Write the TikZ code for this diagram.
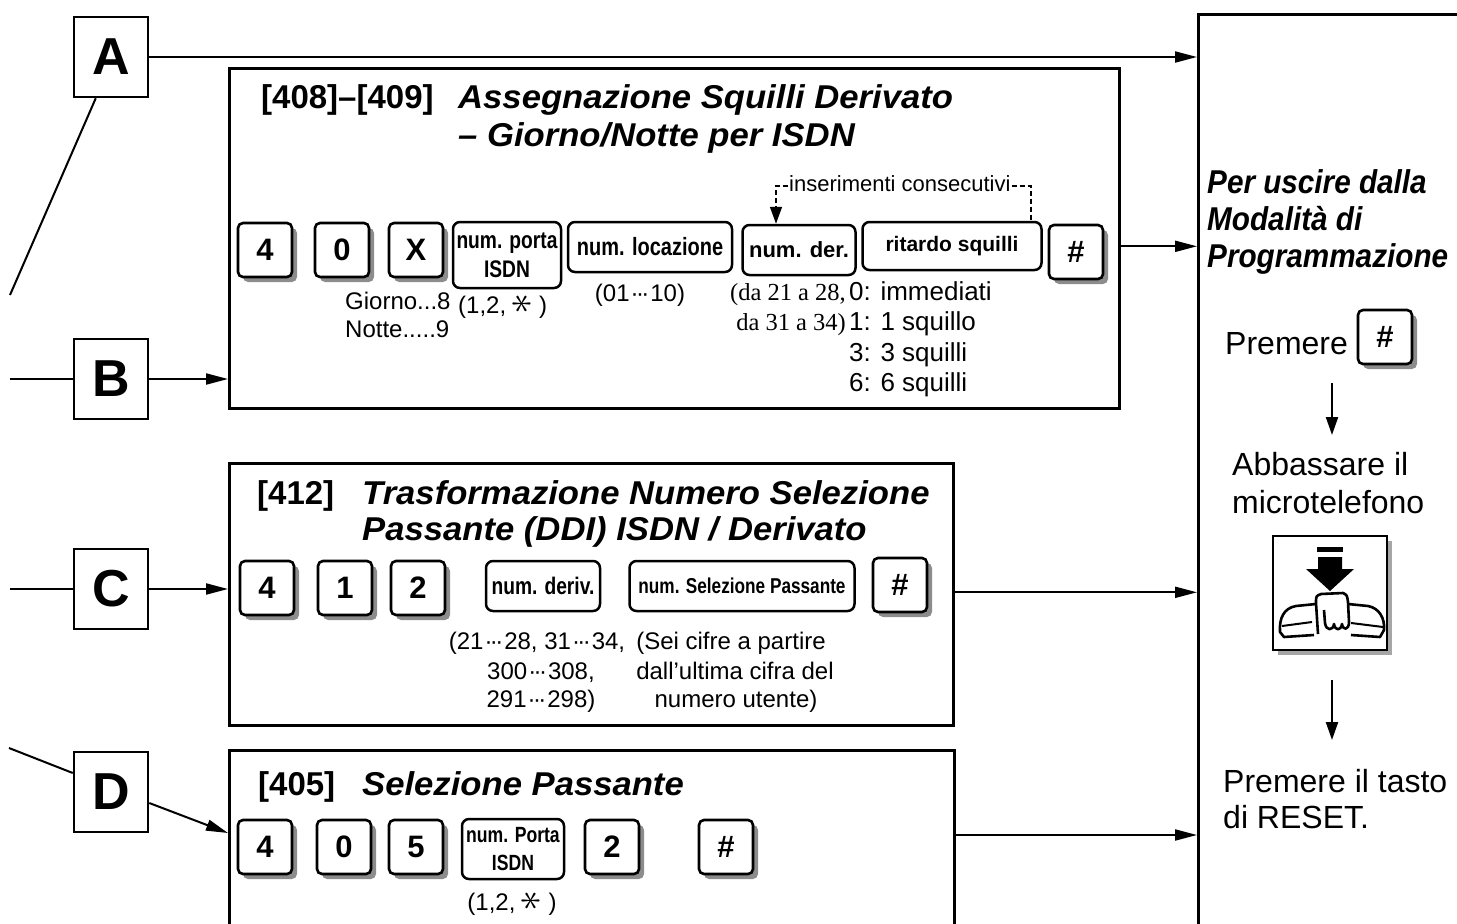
\documentclass[tikz,border=0pt]{standalone}
\usepackage{fontspec}
\setmainfont{Liberation Sans}
\newfontfamily\cond[FakeStretch=0.8]{Liberation Sans}
\newfontfamily\ttlf[FakeStretch=1.05]{Liberation Sans}
\newfontfamily\rttl[FakeStretch=0.9]{Liberation Sans}
\newfontfamily\tms{Liberation Serif}
\usetikzlibrary{arrows.meta,shadows,calc}
\newcommand\fsz[1]{\fontsize{#1}{#1}\selectfont}
\newcommand\mdots{\kern1pt\textperiodcentered\kern-2.6pt\textperiodcentered\kern-2.6pt\textperiodcentered\kern1pt}
\newcommand\sstar{\raisebox{-1pt}{\scalebox{1.7}{\rotatebox[origin=c]{90}{$\ast$}}}}
\begin{document}
\begin{tikzpicture}[x=1pt,y=-1pt,
  bx/.style={draw, line width=2.6pt, inner sep=0pt},
  lbl/.style={draw, line width=2.5pt, minimum width=74pt, minimum height=80pt, inner sep=0pt, font=\fsz{52}\bfseries},
  keyb/.style={draw, line width=2.6pt, rounded corners=5pt, fill=white, inner sep=0pt,
     minimum width=54pt, minimum height=54pt, font=\fsz{31}\bfseries,
     drop shadow={shadow xshift=5pt, shadow yshift=-5pt, fill=black!45, opacity=1}},
  optb/.style={draw, line width=2.5pt, rounded corners=7pt, fill=white, inner sep=0pt, align=center},
  conn/.style={line width=2pt, -{Triangle[length=22pt,width=11pt]}},
  darr/.style={line width=2.2pt, -{Triangle[length=18pt,width=12pt]}},
  ln/.style={line width=2pt},
  txt/.style={inner sep=0pt, font=\fontsize{24}{29}\selectfont},
  ttl/.style={anchor=base west, inner sep=0pt, font=\fsz{33}\ttlf\bfseries\itshape},
  num/.style={anchor=base west, inner sep=0pt, font=\fsz{33}\bfseries},
  rtl/.style={anchor=base west, inner sep=0pt, font=\fsz{33}\rttl\bfseries\itshape},
  rtx/.style={anchor=base west, inner sep=0pt, font=\fsz{32}},
  dsh/.style={line width=1.6pt, dash pattern=on 5pt off 3pt}
]
\useasboundingbox (0,0) rectangle (1457,924);

% right panel
\node[bx, minimum width=400pt, minimum height=1000pt, anchor=north west] (exitp) at (1197,13) {};

% main boxes
\node[bx, minimum width=890pt, minimum height=340pt, anchor=north west] (b1) at (228,67) {};
\node[bx, minimum width=724pt, minimum height=262pt, anchor=north west] (b2) at (228,462) {};
\node[bx, minimum width=725pt, minimum height=300pt, anchor=north west] (b3) at (228,749) {};

% label boxes
\node[lbl] (A) at (111,57) {A};
\node[lbl] (B) at (111,379) {B};
\node[lbl] (C) at (111,589) {C};
\node[lbl] (D) at (111,792) {D};

% connectors on the left
\coordinate (aend) at (10,295);
\draw[ln] ([xshift=23pt]A.south west) -- (aend);
\draw[conn] (A.east) -- (A.east -| exitp.west);
\coordinate (bst) at (10,379);
\draw[ln] (bst) -- (B.west);
\draw[conn] (B.east) -- (B.east -| b1.west);
\coordinate (cst) at (10,589);
\draw[ln] (cst) -- (C.west);
\draw[conn] (C.east) -- (C.east -| b2.west);
\coordinate (dst) at (9,748);
\coordinate (d3in) at (228,833);
\draw[ln] (dst) -- ([yshift=19pt]D.west);
\draw[conn] ([yshift=-11pt]D.east) -- (d3in);

% connectors to the right panel
\draw[conn] ([yshift=-8pt]b1.east) -- ([yshift=-8pt]b1.east -| exitp.west);
\draw[conn] ([yshift=2pt]b2.east) -- ([yshift=2pt]b2.east -| exitp.west);
\coordinate (o3) at (953,835);
\draw[conn] (o3) -- (o3 -| exitp.west);

% ---------- box 1
\node[num] (t1n) at (261,108) {[408]–[409]};
\node[ttl] (t1a) at (458,108) {Assegnazione Squilli Derivato};
\node[ttl] (t1b) at (458,146) {– Giorno/Notte per ISDN};

\node[keyb] (k11) at (265,250) {4};
\node[keyb] (k12) at (342,250) {0};
\node[keyb] (k13) at (416,250) {X};
\node[optb, minimum width=108pt, minimum height=66pt, font=\fontsize{24}{29}\selectfont\cond\bfseries] (k14) at (507,255) {num. porta\\ISDN};
\node[optb, minimum width=164pt, minimum height=50pt, font=\fsz{25}\cond\bfseries] (k15) at (650,247) {num. locazione};
\node[optb, minimum width=113pt, minimum height=50pt, font=\fsz{22}\bfseries] (k16) at (799,250) {num. der.};
\node[optb, minimum width=179pt, minimum height=48pt, font=\fsz{21}\bfseries] (k17) at (952,246) {ritardo squilli};
\node[keyb] (k18) at (1076,252) {\#};

\node[txt, anchor=base west] (g1) at (345,309) {Giorno...8};
\node[txt, anchor=base west] (g2) at (345,337) {Notte.....9};
\node[txt, anchor=base west] (p1) at (458,313) {(1,2, \sstar\ )};
\node[txt, anchor=base] (l1) at (640,301) {(01\mdots 10)};
\node[txt, anchor=base east, font=\fontsize{24.5}{30}\selectfont\tms] (d1) at (846,300) {(da 21 a 28,};
\node[txt, anchor=base east, font=\fontsize{24.5}{30}\selectfont\tms] (d2) at (846,330) {da 31 a 34)};
\node[txt, anchor=base west, font=\fsz{26}] (r0) at (849,300) {0: immediati};
\node[txt, anchor=base west, font=\fsz{26}] (r1) at (849,330) {1: 1 squillo};
\node[txt, anchor=base west, font=\fsz{26}] (r3) at (849,361) {3: 3 squilli};
\node[txt, anchor=base west, font=\fsz{26}] (r6) at (849,391) {6: 6 squilli};

\node[inner sep=1pt, anchor=base west, font=\fsz{22}] (ins) at (788,191) {inserimenti consecutivi};
\coordinate (insL) at (776,186);
\coordinate (insR) at (1031,186);
\draw[dsh, -{Triangle[length=17pt,width=12pt]}] (ins.west |- insL) -- (insL) -- (insL |- k16.north);
\draw[dsh] (ins.east |- insR) -- (insR) -- (insR |- k17.north);

% ---------- box 2
\node[num] (t2n) at (257,504) {[412]};
\node[ttl] (t2a) at (362,504) {Trasformazione Numero Selezione};
\node[ttl] (t2b) at (362,540) {Passante (DDI) ISDN / Derivato};

\node[keyb] (k21) at (267,588) {4};
\node[keyb] (k22) at (345,588) {1};
\node[keyb] (k23) at (418,588) {2};
\node[optb, minimum width=114pt, minimum height=50pt, font=\fsz{24}\cond\bfseries] (k24) at (543,586) {num. deriv.};
\node[optb, minimum width=225pt, minimum height=50pt, font=\fsz{21.5}\cond\bfseries] (k25) at (742,586) {num. Selezione Passante};
\node[keyb] (k26) at (900,585) {\#};

\node[txt, anchor=base] (n2a) at (537,649) {(21\mdots 28, 31\mdots 34,};
\node[txt, anchor=base] (n2b) at (541,679) {300\mdots 308,};
\node[txt, anchor=base] (n2c) at (541,707) {291\mdots 298)};
\node[txt, anchor=base] (s2a) at (731,649) {(Sei cifre a partire};
\node[txt, anchor=base] (s2b) at (735,679) {dall’ultima cifra del};
\node[txt, anchor=base] (s2c) at (736,707) {numero utente)};

% ---------- box 3
\node[num] (t3n) at (258,795) {[405]};
\node[ttl] (t3a) at (362,795) {Selezione Passante};

\node[keyb] (k31) at (265,847) {4};
\node[keyb] (k32) at (344,847) {0};
\node[keyb] (k33) at (416,847) {5};
\node[optb, minimum width=102pt, minimum height=60pt, font=\fontsize{22}{28}\selectfont\cond\bfseries] (k34) at (513,849) {num. Porta\\ISDN};
\node[keyb] (k35) at (612,847) {2};
\node[keyb] (k36) at (726,847) {\#};
\node[txt, anchor=base] (p3) at (512,910) {(1,2, \sstar\ )};

% ---------- right panel
\node[rtl] (e1) at (1207,193) {Per uscire dalla};
\node[rtl] (e2) at (1207,230) {Modalità di};
\node[rtl] (e3) at (1207,267) {Programmazione};

\node[rtx] (pr1) at (1225,354) {Premere};
\node[keyb] (ph) at (1385,337) {\#};
\coordinate (a1s) at (1332,383);
\coordinate (a1e) at (1332,435);
\draw[darr] (a1s) -- (a1e);

\node[rtx] (ab1) at (1232,475) {Abbassare il};
\node[rtx] (ab2) at (1232,513) {microtelefono};

\node[draw, line width=2.2pt, minimum width=114pt, minimum height=114pt, fill=white,
      drop shadow={shadow xshift=5pt, shadow yshift=-5pt, fill=black!35, opacity=1}] (phone) at (1330,593) {};
\fill (1317,547) rectangle (1343,552);
\fill (1318,557) -- (1342,557) -- (1342,569) -- (1354,569) -- (1330,591) -- (1306,569) -- (1318,569) -- cycle;
\draw[line width=2.6pt, line join=round] (1318,634) -- (1316,603) .. controls (1316,596) .. (1321,594) -- (1343,593) .. controls (1347,595) .. (1348,602) -- (1349,622) .. controls (1349,630) and (1343,631) .. (1342,624) .. controls (1341,631) and (1335,631) .. (1334,624) .. controls (1333,631) and (1326,631) .. (1325,623) -- (1324,610);
\draw[line width=2.6pt, line join=round] (1316,604) -- (1296,606) .. controls (1284,608) and (1279,618) .. (1280,632) -- (1284,637) -- (1314,635);
\draw[line width=2pt] (1282,626) -- (1312,622);
\draw[line width=2.6pt, line join=round] (1348,604) -- (1368,606) .. controls (1379,608) and (1385,618) .. (1384,630) -- (1380,637) -- (1351,635);
\draw[line width=2pt] (1351,623) -- (1383,627);

\coordinate (a2s) at (1332,680);
\coordinate (a2e) at (1332,740);
\draw[darr] (a2s) -- (a2e);

\node[rtx] (rs1) at (1223,792) {Premere il tasto};
\node[rtx] (rs2) at (1223,828) {di RESET.};
\end{tikzpicture}
\end{document}
